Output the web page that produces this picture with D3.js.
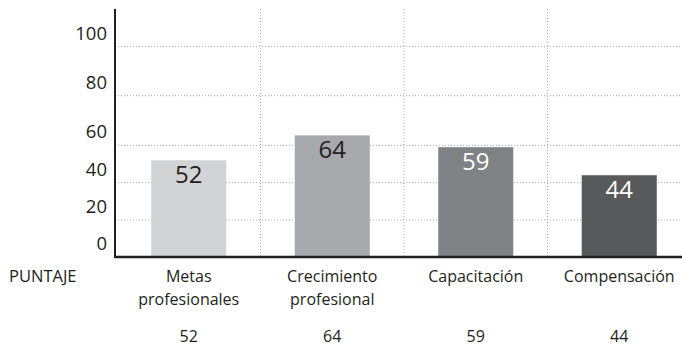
<!DOCTYPE html>
<html>
<head>
<meta charset="utf-8">
<script src="https://cdn.jsdelivr.net/npm/d3@7"></script>
<style>
  html, body { margin: 0; padding: 0; background: #fff; }
  svg { display: block; font-family: "Open Sans", sans-serif; }
</style>
</head>
<body>
<svg id="chart" width="682" height="346"></svg>
<script>
// ====== Datos ======
const categories = [["Metas", "profesionales"], ["Crecimiento", "profesional"], ["Capacitación"], ["Compensación"]];
const values = [52, 64, 59, 44];
const barColors = ["#d1d3d4", "#a7a9ac", "#808285", "#58595b"];
const labelColors = ["#231f20", "#231f20", "#ffffff", "#ffffff"];
const yTicks = [0, 20, 40, 60, 80, 100];
const rowLabel = "PUNTAJE";

// ====== Escalas ======
const svg = d3.select("#chart");
const plotLeft = 115, plotRight = 682, plotTop = 9, plotBase = 257;

// eje vertical del original no es lineal: tramos por tick
const y = d3.scaleLinear()
  .domain(yTicks)
  .range([plotBase, 220, 182.7, 145.3, 95.7, 46.7]);

const x = d3.scaleBand()
  .domain(d3.range(categories.length))
  .range([117, 691])
  .paddingInner(0.477)
  .paddingOuter(0.2385);

const gap = x.step() - x.bandwidth();

// ====== Grilla ======
svg.append("g")
  .selectAll("line")
  .data(yTicks.filter(d => d > 0))
  .join("line")
  .attr("x1", plotLeft).attr("x2", plotRight)
  .attr("y1", d => y(d)).attr("y2", d => y(d))
  .attr("stroke", "#a7a9ac")
  .attr("stroke-width", 1)
  .attr("stroke-dasharray", "1,2");

svg.append("g")
  .selectAll("line")
  .data(d3.range(1, categories.length))
  .join("line")
  .attr("x1", i => x(i) - gap / 2)
  .attr("x2", i => x(i) - gap / 2)
  .attr("y1", plotTop).attr("y2", plotBase)
  .attr("stroke", "#a7a9ac")
  .attr("stroke-width", 1)
  .attr("stroke-dasharray", "1,2");

// ====== Barras ======
svg.append("g")
  .selectAll("rect")
  .data(values)
  .join("rect")
  .attr("x", (d, i) => x(i))
  .attr("width", x.bandwidth())
  .attr("y", d => y(d))
  .attr("height", d => plotBase - y(d))
  .attr("fill", (d, i) => barColors[i]);

svg.append("g")
  .selectAll("text")
  .data(values)
  .join("text")
  .attr("x", (d, i) => x(i) + x.bandwidth() / 2)
  .attr("y", d => y(d) + 23)
  .attr("text-anchor", "middle")
  .attr("font-size", 24)
  .attr("fill", (d, i) => labelColors[i])
  .text(d => d);

// ====== Ejes ======
svg.append("line")
  .attr("x1", plotLeft).attr("x2", plotRight)
  .attr("y1", plotBase).attr("y2", plotBase)
  .attr("stroke", "#231f20").attr("stroke-width", 2.5);

svg.append("line")
  .attr("x1", plotLeft).attr("x2", plotLeft)
  .attr("y1", plotTop).attr("y2", plotBase + 1)
  .attr("stroke", "#231f20").attr("stroke-width", 2);

svg.append("g")
  .selectAll("text")
  .data(yTicks)
  .join("text")
  .attr("x", 107)
  .attr("y", d => y(d) - 7)
  .attr("text-anchor", "end")
  .attr("font-size", 18.5)
  .attr("fill", "#231f20")
  .text(d => d);

// ====== Tabla inferior ======
svg.append("text")
  .attr("x", 9).attr("y", 282)
  .attr("font-size", 16.5)
  .attr("fill", "#231f20")
  .text(rowLabel);

const cat = svg.append("g")
  .selectAll("text")
  .data(categories)
  .join("text")
  .attr("x", (d, i) => x(i) + x.bandwidth() / 2)
  .attr("y", 282)
  .attr("text-anchor", "middle")
  .attr("font-size", 16)
  .attr("fill", "#231f20");

cat.selectAll("tspan")
  .data(d => d)
  .join("tspan")
  .attr("x", function() { return d3.select(this.parentNode).attr("x"); })
  .attr("dy", (d, j) => j === 0 ? 0 : 23)
  .text(d => d);

svg.append("g")
  .selectAll("text")
  .data(values)
  .join("text")
  .attr("x", (d, i) => x(i) + x.bandwidth() / 2)
  .attr("y", 342)
  .attr("text-anchor", "middle")
  .attr("font-size", 16)
  .attr("fill", "#231f20")
  .text(d => d);
</script>
</body>
</html>
